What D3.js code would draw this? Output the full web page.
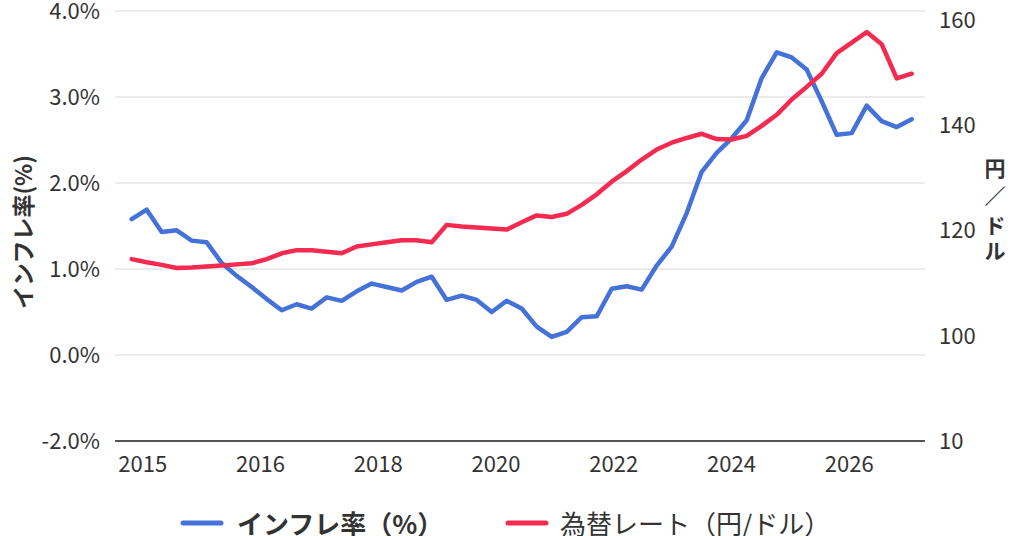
<!DOCTYPE html>
<html>
<head>
<meta charset="utf-8">
<script src="https://cdn.jsdelivr.net/npm/d3@7"></script>
<style>
  body { margin: 0; background: #fff; }
  svg { display: block; }
  text { font-family: "Noto Sans CJK JP", "Noto Sans", sans-serif; fill: #333; }
</style>
</head>
<body>
<svg id="chart" width="1024" height="536"></svg>
<script>
// quarterly readings
var inflation = [1.58, 1.69, 1.43, 1.45, 1.33, 1.31, 1.07, 0.92, 0.79, 0.65,
                 0.52, 0.59, 0.54, 0.67, 0.63, 0.74, 0.83, 0.79, 0.75, 0.85,
                 0.91, 0.64, 0.69, 0.64, 0.50, 0.63, 0.54, 0.33, 0.21, 0.27,
                 0.44, 0.45, 0.77, 0.80, 0.76, 1.04, 1.26, 1.65, 2.13, 2.35,
                 2.52, 2.73, 3.22, 3.52, 3.46, 3.32, 2.95, 2.56, 2.58, 2.90,
                 2.72, 2.65, 2.74];

var fxRate = [114.6, 114.0, 113.5, 112.9, 113.0, 113.2, 113.4, 113.6, 113.8, 114.6,
              115.7, 116.3, 116.3, 116.0, 115.7, 117.0, 117.4, 117.8, 118.2, 118.2,
              117.8, 121.1, 120.8, 120.6, 120.4, 120.2, 121.6, 122.9, 122.6, 123.2,
              124.9, 126.9, 129.3, 131.3, 133.5, 135.4, 136.7, 137.6, 138.4, 137.4,
              137.3, 138.0, 139.9, 142.0, 144.9, 147.3, 149.8, 153.7, 155.7, 157.7,
              155.4, 148.9, 149.8];

var xTickLabels = ['2015', '2016', '2018', '2020', '2022', '2024', '2026'];
var xTickIndex = [0.7, 8.55, 16.4, 24.25, 32.1, 39.95, 47.8];

var leftTicks = [-2, 0, 1, 2, 3, 4];
var leftTickLabels = ['-2.0%', '0.0%', '1.0%', '2.0%', '3.0%', '4.0%'];

var rightTicks = [10, 100, 120, 140, 160];
var rightTickLabels = ['10', '100', '120', '140', '160'];

var legendItems = [
  { label: 'インフレ率（%）', color: '#4472d9', bold: true },
  { label: '為替レート（円/ドル）', color: '#f52a50', bold: false }
];

var plotLeft = 115
  , plotRight = 925
  , colors = { inflation: '#4472d9', fx: '#f52a50' };

var svg = d3.select('#chart');

svg.append('rect')
   .attr('width', 1024)
   .attr('height', 536)
   .attr('fill', '#fff');

var x = d3.scaleLinear()
          .domain([0, inflation.length - 1])
          .range([131.7, 911.7]);

// both value axes are broken below zero / below 100
var yLeft = d3.scaleLinear()
              .domain([-2, 0, 4])
              .range([441, 355, 11]);

var yRight = d3.scaleLinear()
               .domain([10, 100, 160])
               .range([441.5, 336, 20]);

// gridlines
svg.append('g')
   .selectAll('line')
   .data(leftTicks.slice(1))
   .enter()
   .append('line')
   .attr('x1', plotLeft)
   .attr('x2', plotRight)
   .attr('y1', function (d) { return yLeft(d); })
   .attr('y2', function (d) { return yLeft(d); })
   .attr('stroke', '#e4e4e4')
   .attr('stroke-width', 1.5);

svg.append('line')
   .attr('x1', plotLeft)
   .attr('x2', plotRight)
   .attr('y1', yLeft(-2))
   .attr('y2', yLeft(-2))
   .attr('stroke', '#555')
   .attr('stroke-width', 2);

var styleAxis = function (g, size) {
  g.select('.domain').remove();
  g.selectAll('text')
   .style('font-size', size + 'px')
   .attr('fill', '#333');
};

svg.append('g')
   .attr('transform', 'translate(' + plotLeft + ',0)')
   .call(d3.axisLeft(yLeft)
           .tickValues(leftTicks)
           .tickSize(0)
           .tickPadding(15)
           .tickFormat(function (d, i) { return leftTickLabels[i]; }))
   .call(styleAxis, 22);

svg.append('g')
   .attr('transform', 'translate(' + plotRight + ',0)')
   .call(d3.axisRight(yRight)
           .tickValues(rightTicks)
           .tickSize(0)
           .tickPadding(14)
           .tickFormat(function (d, i) { return rightTickLabels[i]; }))
   .call(styleAxis, 22);

svg.append('g')
   .attr('transform', 'translate(0,441)')
   .call(d3.axisBottom(x)
           .tickValues(xTickIndex)
           .tickSize(0)
           .tickPadding(15)
           .tickFormat(function (d, i) { return xTickLabels[i]; }))
   .call(styleAxis, 22);

// axis titles
svg.append('text')
   .attr('transform', 'translate(22,232) rotate(-90)')
   .attr('text-anchor', 'middle')
   .attr('dominant-baseline', 'central')
   .style('font-size', '23px')
   .style('font-weight', 'bold')
   .text('インフレ率(%)');

var rightTitle = ['円', '／', 'ド', 'ル']
  , rightTitleY = [167, 195, 224, 250];

svg.append('g')
   .selectAll('text')
   .data(rightTitle)
   .enter()
   .append('text')
   .attr('x', 995)
   .attr('y', function (d, i) { return rightTitleY[i]; })
   .attr('text-anchor', 'middle')
   .attr('dominant-baseline', 'central')
   .style('font-size', '21px')
   .style('font-weight', 'bold')
   .text(function (d) { return d; });

// series
var lineLeft = d3.line()
                 .x(function (d, i) { return x(i); })
                 .y(function (d) { return yLeft(d); });

var lineRight = d3.line()
                  .x(function (d, i) { return x(i); })
                  .y(function (d) { return yRight(d); });

svg.append('path')
   .datum(inflation)
   .attr('d', lineLeft)
   .attr('fill', 'none')
   .attr('stroke', colors.inflation)
   .attr('stroke-width', 4.5)
   .attr('stroke-linejoin', 'round')
   .attr('stroke-linecap', 'round');

svg.append('path')
   .datum(fxRate)
   .attr('d', lineRight)
   .attr('fill', 'none')
   .attr('stroke', colors.fx)
   .attr('stroke-width', 4.5)
   .attr('stroke-linejoin', 'round')
   .attr('stroke-linecap', 'round');

// legend
var legendX = [183, 508];

var legend = svg.append('g')
                .selectAll('g')
                .data(legendItems)
                .enter()
                .append('g')
                .attr('transform', function (d, i) {
                  return 'translate(' + legendX[i] + ',522)';
                });

legend.append('line')
      .attr('x1', 0)
      .attr('x2', 38)
      .attr('y1', 1)
      .attr('y2', 1)
      .attr('stroke', function (d) { return d.color; })
      .attr('stroke-width', 5)
      .attr('stroke-linecap', 'round');

legend.append('text')
      .attr('x', function (d, i) { return i === 0 ? 54 : 52; })
      .attr('dominant-baseline', 'central')
      .style('font-size', '26px')
      .style('font-weight', function (d) { return d.bold ? 'bold' : 'normal'; })
      .text(function (d) { return d.label; });
</script>
</body>
</html>
